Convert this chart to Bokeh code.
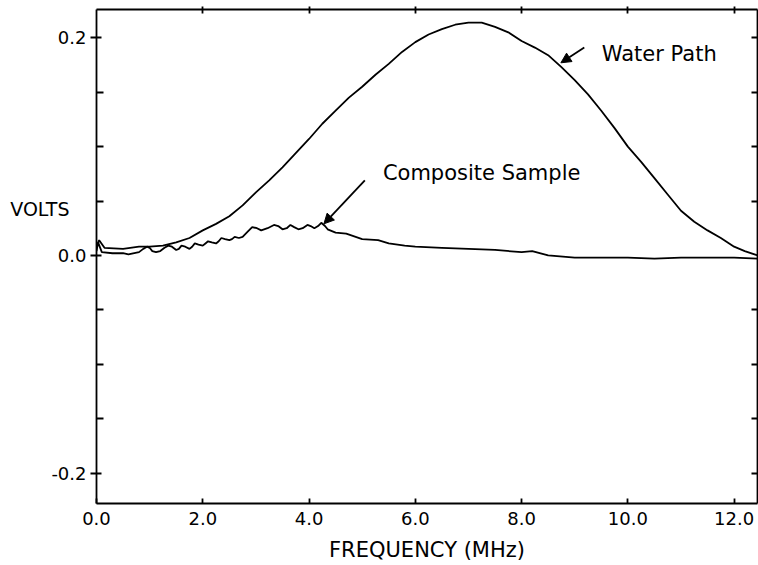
from bokeh.plotting import figure
from bokeh.models import (Range1d, LinearAxis, FixedTicker, Label, Arrow, NormalHead,
                          CustomLabelingPolicy)
from bokeh.embed import file_html
from bokeh.resources import INLINE

# ---- data ----
water_freq = [0.0, 0.05, 0.15, 0.5, 0.8, 1.0, 1.25, 1.5, 1.75, 2.0, 2.25, 2.5, 2.75,
              3.0, 3.25, 3.5, 3.75, 4.0, 4.25, 4.5, 4.75, 5.0, 5.25, 5.5, 5.75, 6.0,
              6.25, 6.5, 6.75, 7.0, 7.25, 7.5, 7.75, 8.0, 8.25, 8.5, 8.75, 9.0, 9.25,
              9.5, 9.75, 10.0, 10.25, 10.5, 10.75, 11.0, 11.25, 11.5, 11.75, 12.0,
              12.2, 12.44]
water_volts = [0.008, 0.014, 0.007, 0.006, 0.008, 0.008, 0.009, 0.012, 0.016, 0.023,
               0.029, 0.036, 0.046, 0.058, 0.069, 0.081, 0.094, 0.107, 0.121, 0.133,
               0.145, 0.155, 0.166, 0.176, 0.187, 0.196, 0.203, 0.208, 0.212, 0.214,
               0.214, 0.210, 0.205, 0.197, 0.191, 0.184, 0.173, 0.161, 0.148, 0.133,
               0.117, 0.100, 0.086, 0.071, 0.056, 0.041, 0.031, 0.023, 0.016, 0.008,
               0.004, 0.000]

comp_freq = [0.0, 0.03, 0.1, 0.3, 0.5, 0.6, 0.8, 0.88, 0.95, 1.0, 1.05, 1.12, 1.2,
             1.28, 1.35, 1.42, 1.5, 1.55, 1.6, 1.67, 1.75, 1.8, 1.85, 1.92, 2.0, 2.05,
             2.1, 2.17, 2.25, 2.3, 2.35, 2.42, 2.5, 2.55, 2.6, 2.68, 2.75, 2.85, 2.93,
             3.02, 3.1, 3.22, 3.34, 3.42, 3.5, 3.58, 3.65, 3.72, 3.8, 3.88, 3.97, 4.03,
             4.1, 4.17, 4.23, 4.3, 4.35, 4.5, 4.7, 5.0, 5.3, 5.5, 5.8, 6.0, 6.5, 7.0,
             7.5, 8.0, 8.2, 8.5, 9.0, 9.5, 10.0, 10.5, 11.0, 11.5, 12.0, 12.44]
comp_volts = [0.004, 0.012, 0.003, 0.002, 0.002, 0.001, 0.003, 0.006, 0.008, 0.007,
              0.004, 0.003, 0.004, 0.007, 0.009, 0.008, 0.005, 0.006, 0.009, 0.008,
              0.006, 0.008, 0.011, 0.010, 0.009, 0.011, 0.013, 0.012, 0.011, 0.013,
              0.016, 0.015, 0.014, 0.015, 0.017, 0.016, 0.017, 0.022, 0.026, 0.025,
              0.023, 0.025, 0.028, 0.027, 0.024, 0.025, 0.028, 0.026, 0.024, 0.025,
              0.028, 0.027, 0.025, 0.027, 0.030, 0.027, 0.024, 0.021, 0.020, 0.015,
              0.014, 0.011, 0.009, 0.008, 0.007, 0.006, 0.005, 0.003, 0.004, 0.000,
              -0.002, -0.002, -0.002, -0.003, -0.002, -0.002, -0.002, -0.003]

x_ticks = [0, 2, 4, 6, 8, 10, 12]
x_tick_labels = ["0.0", "2.0", "4.0", "6.0", "8.0", "10.0", "12.0"]
y_ticks = [-0.2, 0.0, 0.2]
y_tick_labels = ["-0.2", "0.0", "0.2"]
y_minor_ticks = [-0.15, -0.1, -0.05, 0.05, 0.1, 0.15]
right_ticks = [-0.2, -0.15, -0.1, -0.05, 0.05, 0.1, 0.15, 0.2]

x_title = "FREQUENCY (MHz)"
y_title = "VOLTS"
y_title_at = 0.043
water_label = "Water Path"
comp_label = "Composite Sample"

FONT = "DejaVu Sans"
AX_W = 1.8


def no_labels():
    return CustomLabelingPolicy(code="""
for (const i of indices) indices.unset(i)
return indices
""")


p = figure(width=758, height=565,
           x_range=Range1d(0, 12.44), y_range=Range1d(-0.228, 0.226),
           output_backend="svg", toolbar_location=None,
           min_border_left=96, min_border_right=1, min_border_top=9,
           min_border_bottom=62)
p.xgrid.visible = False
p.ygrid.visible = False
p.outline_line_color = None
p.background_fill_color = "white"
p.border_fill_color = "white"

# bottom axis
xa = p.xaxis[0]
xa.ticker = FixedTicker(ticks=x_ticks, minor_ticks=[])
xa.major_label_overrides = dict(zip(x_ticks, x_tick_labels))
xa.major_tick_in = 5
xa.major_tick_out = 0
xa.minor_tick_in = 0
xa.minor_tick_out = 0
xa.major_label_standoff = 8
xa.major_label_text_font = FONT
xa.major_label_text_font_size = "18px"
xa.major_label_text_color = "black"
xa.axis_label = x_title
xa.axis_label_text_font = FONT
xa.axis_label_text_font_size = "21px"
xa.axis_label_text_font_style = "normal"
xa.axis_label_text_color = "black"
xa.axis_label_standoff = 10
xa.axis_line_width = AX_W
xa.major_tick_line_width = AX_W
xa.axis_line_color = "black"

# left axis
ya = p.yaxis[0]
ya.ticker = FixedTicker(ticks=y_ticks, minor_ticks=y_minor_ticks)
ya.major_label_overrides = dict(zip(y_ticks, y_tick_labels))
ya.major_tick_in = 5
ya.major_tick_out = 6
ya.minor_tick_in = 7
ya.minor_tick_out = 0
ya.major_label_standoff = 4
ya.major_label_text_font = FONT
ya.major_label_text_font_size = "18px"
ya.major_label_text_color = "black"
ya.axis_line_width = AX_W
ya.major_tick_line_width = AX_W
ya.minor_tick_line_width = AX_W
ya.axis_line_color = "black"

# outer left "axis" carrying only the horizontal VOLTS title
va = LinearAxis(ticker=FixedTicker(ticks=[y_title_at], minor_ticks=[]),
                major_label_overrides={y_title_at: y_title},
                axis_line_color=None, major_tick_line_color=None,
                minor_tick_line_color=None, major_tick_out=0, major_tick_in=0,
                major_label_standoff=-21, major_label_text_font=FONT,
                major_label_text_font_size="19px", major_label_text_color="black")
p.add_layout(va, "left")

# top axis (ticks only)
ta = LinearAxis(ticker=FixedTicker(ticks=x_ticks[1:], minor_ticks=[]),
                major_label_overrides={t: "" for t in x_ticks[1:]},
                major_tick_in=4, major_tick_out=3, minor_tick_in=0, minor_tick_out=0,
                major_label_policy=no_labels(), major_label_standoff=0,
                major_label_text_font_size="1px",
                axis_line_width=AX_W, major_tick_line_width=AX_W, axis_line_color="black")
p.add_layout(ta, "above")

# right axis (ticks only)
ra = LinearAxis(ticker=FixedTicker(ticks=right_ticks, minor_ticks=[]),
                major_label_overrides={t: "" for t in right_ticks},
                major_tick_in=6, major_tick_out=0, minor_tick_in=0, minor_tick_out=0,
                major_label_policy=no_labels(), major_label_standoff=0,
                major_label_text_font_size="1px",
                axis_line_width=AX_W, major_tick_line_width=AX_W, axis_line_color="black")
p.add_layout(ra, "right")

# curves
p.line(water_freq, water_volts, line_color="black", line_width=1.8)
p.line(comp_freq, comp_volts, line_color="black", line_width=1.8)

# annotations
p.add_layout(Label(x=9.51, y=0.185, text=water_label, text_font=FONT,
                   text_font_size="21px", text_baseline="alphabetic", text_color="black"))
p.add_layout(Label(x=5.39, y=0.076, text=comp_label, text_font=FONT,
                   text_font_size="21px", text_baseline="alphabetic", text_color="black"))

p.add_layout(Arrow(end=NormalHead(size=10, fill_color="black", line_color="black", line_width=1),
                   x_start=9.18, y_start=0.191, x_end=8.74, y_end=0.177,
                   line_width=1.8, line_color="black"))
p.add_layout(Arrow(end=NormalHead(size=10, fill_color="black", line_color="black", line_width=1),
                   x_start=5.05, y_start=0.069, x_end=4.28, y_end=0.029,
                   line_width=1.8, line_color="black"))

open("out.html", "w").write(file_html(p, INLINE))
